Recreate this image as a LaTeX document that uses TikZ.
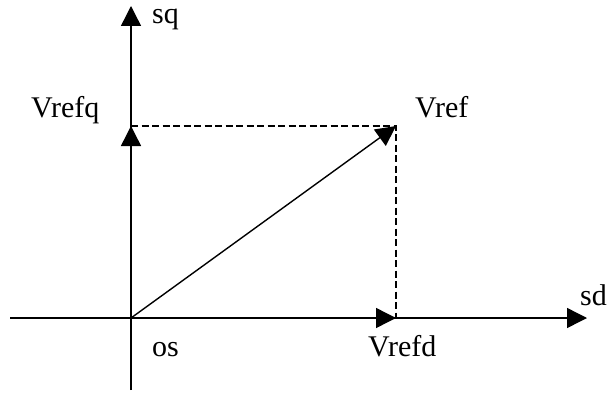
\documentclass[tikz,border=0pt]{standalone}
\usepackage{fontspec}
\setmainfont{Liberation Serif}
\usetikzlibrary{arrows.meta}
\begin{document}
\begin{tikzpicture}[x=1pt,y=1pt,
  axis/.style={line width=1.4pt},
  vec/.style={line width=1.4pt,-{Triangle[length=20pt,width=20pt]}},
  guide/.style={line width=1.3pt,dash pattern=on 7pt off 3.5pt},
  lbl/.style={anchor=base west,inner sep=0pt,font=\fontsize{30}{36}\selectfont}]
\useasboundingbox (0,0) rectangle (612,392);
\coordinate (O) at (131,74);
\coordinate (top) at (131,386);
\coordinate (bot) at (131,2);
\coordinate (left) at (10,74);
\coordinate (right) at (587,74);
\coordinate (Q) at (131,266);
\coordinate (V) at (396,266);
\coordinate (D) at (396,74);
\draw[guide] (Q) -- (V) -- (D);
\draw[vec] (bot) -- (top);
\draw[vec] (left) -- (right);
\draw[vec] (O) -- (Q);
\draw[vec] (O) -- (D);
\draw[vec] (O) -- (V);
\node[lbl] (sq) at (152,369) {sq};
\node[lbl] (vrefq) at (31,275) {Vrefq};
\node[lbl] (vref) at (415,275) {Vref};
\node[lbl] (os) at (152,36) {os};
\node[lbl] (vrefd) at (368,36) {Vrefd};
\node[lbl] (sd) at (580,87) {sd};
\end{tikzpicture}
\end{document}
